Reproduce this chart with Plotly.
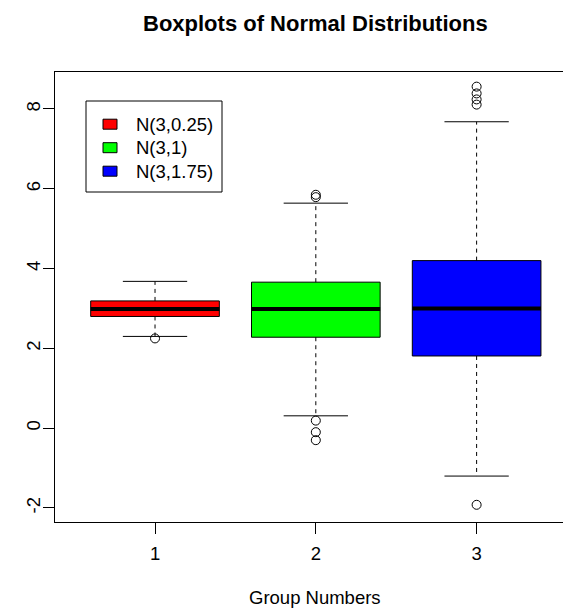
import plotly.graph_objects as go

# ---- data ----
groups = [1, 2, 3]
series_labels = ["N(3,0.25)", "N(3,1)", "N(3,1.75)"]
colors = ["#FF0000", "#00FF00", "#0000FF"]
q1 = [2.80, 2.28, 1.81]
median = [2.99, 2.99, 3.00]
q3 = [3.19, 3.66, 4.20]
lower_whisker = [2.30, 0.31, -1.20]
upper_whisker = [3.68, 5.64, 7.68]
outliers = [
    [2.25],
    [5.85, 5.79, 0.19, -0.10, -0.30],
    [8.56, 8.39, 8.24, 8.11, -1.92],
]
y_ticks = [-2, 0, 2, 4, 6, 8]
x_ticks = [1, 2, 3]
title_text = "Boxplots of Normal Distributions"
xlabel_text = "Group Numbers"

FONT = "Liberation Sans, Arial, Helvetica, sans-serif"
BOXW = 0.8
STAPLE = 0.2

FIG_W, FIG_H = 563, 612
# plot area in page pixels (extends to right edge of page)
PL, PT, PH = 55, 72, 450
PW = FIG_W - PL

def px(p):
    return (p - PL) / PW
def py(p):
    return (PT + PH - p) / PH

fig = go.Figure()

# boxes
fig.add_trace(go.Bar(
    x=groups, base=q1, y=[b - a for a, b in zip(q1, q3)], width=BOXW,
    marker=dict(color=colors, line=dict(color="black", width=1)),
    showlegend=False, hoverinfo="skip"))

for i, g in enumerate(groups):
    # whiskers (dashed)
    fig.add_trace(go.Scatter(x=[g, g, None, g, g],
                             y=[q3[i], upper_whisker[i], None, q1[i], lower_whisker[i]],
                             mode="lines", line=dict(color="black", width=1, dash="4px,4px"),
                             showlegend=False, hoverinfo="skip"))
    # staples
    fig.add_trace(go.Scatter(x=[g - STAPLE, g + STAPLE, None, g - STAPLE, g + STAPLE],
                             y=[upper_whisker[i], upper_whisker[i], None, lower_whisker[i], lower_whisker[i]],
                             mode="lines", line=dict(color="black", width=1),
                             showlegend=False, hoverinfo="skip"))
    # median
    fig.add_trace(go.Scatter(x=[g - BOXW / 2, g + BOXW / 2], y=[median[i], median[i]],
                             mode="lines", line=dict(color="black", width=4),
                             showlegend=False, hoverinfo="skip"))
    # outliers
    fig.add_trace(go.Scatter(x=[g] * len(outliers[i]), y=outliers[i], mode="markers",
                             marker=dict(symbol="circle-open", size=9, color="black",
                                         line=dict(width=1, color="black")),
                             showlegend=False, hoverinfo="skip"))

# manual legend
shapes = [dict(type="rect", xref="paper", yref="paper",
               x0=px(86), x1=px(222), y0=py(192), y1=py(101),
               line=dict(color="black", width=1), fillcolor="white", layer="above")]
annotations = []
centers = [124.2, 147.7, 171.2]
for lab, col, cy in zip(series_labels, colors, centers):
    shapes.append(dict(type="rect", xref="paper", yref="paper",
                       x0=px(103), x1=px(117), y0=py(cy + 5), y1=py(cy - 5),
                       line=dict(color="black", width=1), fillcolor=col, layer="above"))
    annotations.append(dict(xref="paper", yref="paper", x=px(134), y=py(cy),
                            xanchor="left", yanchor="middle", text=lab, showarrow=False,
                            font=dict(size=18.5, color="black", family=FONT)))

annotations.append(dict(xref="paper", yref="paper", x=px(315), y=py(597),
                        xanchor="center", yanchor="middle", text=xlabel_text, showarrow=False,
                        font=dict(size=18.5, color="black", family=FONT)))
annotations.append(dict(xref="paper", yref="paper", x=px(315), y=py(23),
                        xanchor="center", yanchor="middle", text="<b>" + title_text + "</b>",
                        showarrow=False, font=dict(size=22, color="black", family=FONT)))

fig.update_layout(
    width=FIG_W, height=FIG_H,
    margin=dict(l=PL, r=0, t=PT, b=FIG_H - PT - PH, pad=0),
    paper_bgcolor="white", plot_bgcolor="white",
    font=dict(family=FONT, size=18.5, color="black"),
    shapes=shapes, annotations=annotations,
    xaxis=dict(range=[0.378, 0.378 + PW / 160.8], tickvals=x_ticks, ticktext=[str(v) for v in x_ticks],
               showgrid=False, zeroline=False, showline=True, mirror=True,
               linecolor="black", linewidth=1, ticks="outside", ticklen=11,
               tickcolor="black", tickwidth=1, ticklabelstandoff=4),
    yaxis=dict(range=[-2.351, 8.927], tickvals=y_ticks, ticktext=[str(v) for v in y_ticks],
               showgrid=False, zeroline=False, showline=True, mirror=False,
               linecolor="black", linewidth=1, ticks="outside", ticklen=11,
               tickcolor="black", tickwidth=1, tickangle=-90, ticklabelstandoff=-4),
    bargap=0,
)

fig.write_html("out.html",
               config={"displayModeBar": False, "staticPlot": True},
               post_script="document.body.style.margin='0';document.body.style.overflow='hidden';")
